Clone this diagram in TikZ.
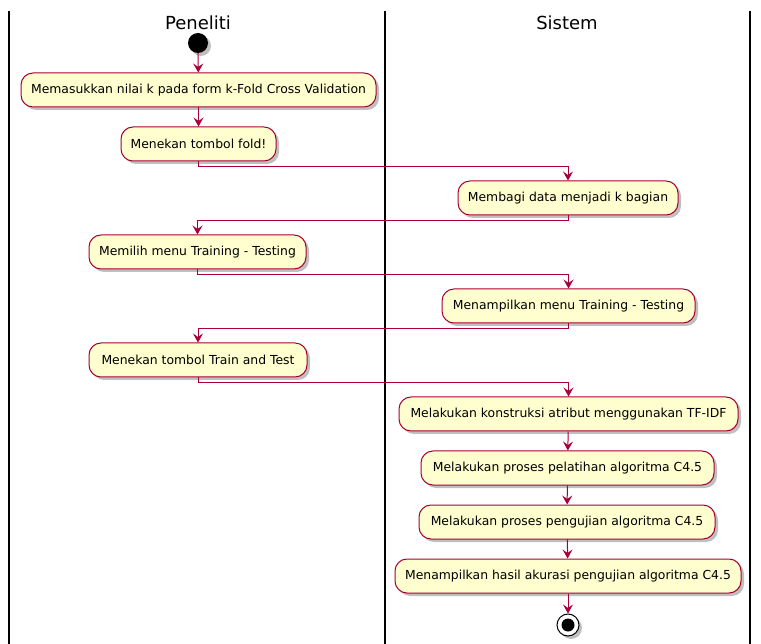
\documentclass[tikz,border=0pt]{standalone}
\usepackage{fontspec}
\setmainfont{DejaVu Sans}
\usetikzlibrary{arrows.meta,shadows}
\definecolor{actfill}{HTML}{FEFECE}
\definecolor{actline}{HTML}{A80036}
\begin{document}
\begin{tikzpicture}[x=1pt,y=-1pt,
 act/.style={draw=actline, fill=actfill, rounded corners=12pt, line width=1pt, minimum height=34pt, inner sep=0pt,
   font=\fontsize{12.4}{14}\selectfont,
   drop shadow={shadow xshift=3pt, shadow yshift=-3pt, opacity=0.25, fill=black}},
 flow/.style={draw=actline, line width=1pt, -{Stealth[length=9pt,width=10pt,inset=3.5pt]}},
 lane/.style={line width=1.5pt},
 lanetitle/.style={font=\fontsize{18}{20}\selectfont}]
\useasboundingbox (0,0) rectangle (761,644);
% swimlanes
\draw[lane] (9,11) -- (9,644);
\draw[lane] (385,11) -- (385,644);
\draw[lane] (750,11) -- (750,644);
\node[lanetitle] (t1) at (198,23) {Peneliti};
\node[lanetitle] (t2) at (567,23) {Sistem};
% start / stop
\node[circle, fill=black, minimum size=20pt, inner sep=0pt,
  drop shadow={shadow xshift=3pt, shadow yshift=-3pt, opacity=0.25, fill=black}] (start) at (198,43) {};
\node[circle, draw=black, fill=white, line width=1pt, minimum size=22pt, inner sep=0pt,
  drop shadow={shadow xshift=3pt, shadow yshift=-3pt, opacity=0.25, fill=black}] (stop) at (568,625) {};
\node[circle, fill=black, minimum size=13pt, inner sep=0pt] (stopin) at (stop.center) {};
% activities
\node[act, minimum width=355pt] (a1) at (198.5,90) {Memasukkan nilai k pada form k-Fold Cross Validation};
\node[act, minimum width=155pt] (a2) at (198.5,144) {Menekan tombol fold!};
\node[act, minimum width=220pt] (b1) at (568,198) {Membagi data menjadi k bagian};
\node[act, minimum width=217pt] (a3) at (197.5,252) {Memilih menu Training - Testing};
\node[act, minimum width=253pt] (b2) at (568.5,306) {Menampilkan menu Training - Testing};
\node[act, minimum width=218pt] (a4) at (198,360) {Menekan tombol Train and Test};
\node[act, minimum width=339pt] (b3) at (568.5,414) {Melakukan konstruksi atribut menggunakan TF-IDF};
\node[act, minimum width=293pt] (b4) at (567.5,468) {Melakukan proses pelatihan algoritma C4.5};
\node[act, minimum width=296pt] (b5) at (567,522) {Melakukan proses pengujian algoritma C4.5};
\node[act, minimum width=346pt] (b6) at (568,576) {Menampilkan hasil akurasi pengujian algoritma C4.5};
% connectors
\draw[flow] (start) -- (a1);
\draw[flow] (a1) -- (a2);
\draw[flow] (a2.south) -- ++(0,5) -| (b1.north);
\draw[flow] (b1.south) -- ++(0,5) -| (a3.north);
\draw[flow] (a3.south) -- ++(0,5) -| (b2.north);
\draw[flow] (b2.south) -- ++(0,5) -| (a4.north);
\draw[flow] (a4.south) -- ++(0,5) -| (b3.north);
\draw[flow] (b3) -- (b4);
\draw[flow] (b4) -- (b5);
\draw[flow] (b5) -- (b6);
\draw[flow] (b6) -- (stop);
\end{tikzpicture}
\end{document}
